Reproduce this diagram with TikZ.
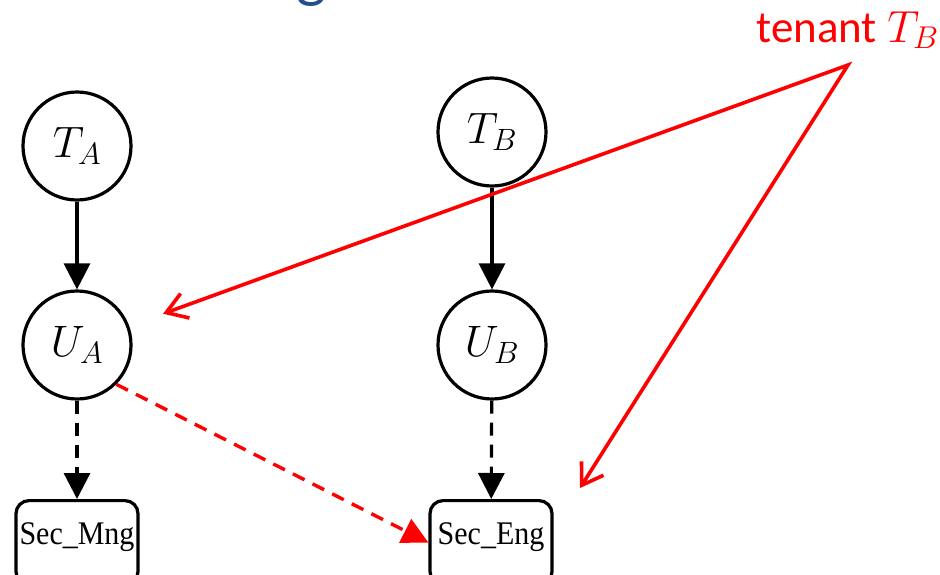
\documentclass[tikz,border=0pt]{standalone}
\usepackage{fix-cm}
\usepackage{fontspec}
\usetikzlibrary{arrows.meta}
\newfontfamily\calibrifont{Carlito}
\newfontfamily\timesfont{Liberation Serif}
\definecolor{titleblue}{RGB}{35,80,140}
\definecolor{tred}{RGB}{255,0,0}
\begin{document}
\begin{tikzpicture}[x=1pt, y=-1pt, line width=3.2pt,
  ent/.style={draw,circle,minimum size=108pt,inner sep=0pt,font=\fontsize{44}{50}\selectfont},
  sec/.style={draw,rounded corners=13pt,minimum width=122pt,inner xsep=0pt,inner ysep=0pt,text height=44pt,text depth=40pt,font=\timesfont\fontsize{30}{33}\selectfont},
  tip/.style={-{Triangle[length=26pt,width=26pt]}},
  barb/.style={{Straight Barb[length=20pt,width=26pt]}-{Straight Barb[length=20pt,width=26pt]}},
  dashline/.style={dash pattern=on 13pt off 9pt}]
\useasboundingbox (0,0) rectangle (940,574);
\clip (0,0) rectangle (940,574);
% cut-off title
\node[font=\calibrifont\fontsize{64}{70}\selectfont,text=titleblue,anchor=base] (ttl) at (312,-5) {g};
% tenants and users
\node[ent] (ta) at (77,146) {$T_A$};
\node[ent] (ua) at (77,345) {$U_A$};
\node[ent] (tb) at (492,132) {$T_B$};
\node[ent] (ub) at (492,345) {$U_B$};
\node[sec,anchor=north] (sm) at (77,499) {\scalebox{1}[1.1]{Sec\_Mng}};
\node[sec,anchor=north] (se) at (491,499) {\scalebox{1}[1.1]{Sec\_Eng}};
\draw[tip] (ta) -- (ua); \draw[tip] (tb) -- (ub);
\draw[tip,dashline] (ua) -- (sm); \draw[tip,dashline] (ub) -- (se);
% tenant T_B view
\node[font=\calibrifont\fontsize{45}{50}\selectfont,text=tred,anchor=base west,inner sep=0pt] (tl) at (755,42) {tenant $T_B$};
\coordinate (tn) at (848,65);
\coordinate (engend) at (580,488);
\draw[tred,line width=3.6pt,barb,shorten <=36pt] (ua) -- (tn) -- (engend);
\draw[tred,line width=3.4pt,tip,dashline] (ua.-45) -- (se.west);
\end{tikzpicture}
\end{document}
